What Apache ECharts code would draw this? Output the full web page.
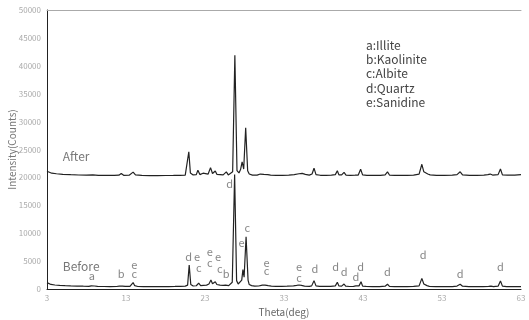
<!DOCTYPE html>
<html>
<head>
<meta charset="utf-8">
<script src="https://cdn.jsdelivr.net/npm/echarts@6/dist/echarts.min.js"></script>
<style>
  html, body { margin: 0; padding: 0; background: #fff; }
  #chart { width: 529px; height: 320px; }
</style>
</head>
<body>
<div id="chart"></div>
<script>
// X-ray diffraction patterns: [2θ (deg), intensity (counts)]
const beforePattern = [
  [3.0,1150],[3.2,950],[3.5,820],[4.0,720],[4.6,650],[5.3,600],[6.0,560],[6.8,530],[7.6,500],
  [8.3,480],[8.6,560],[8.8,640],[9.0,540],[9.4,470],[10.2,450],[11.0,440],[11.8,450],
  [12.15,520],[12.35,800],[12.55,520],[12.9,460],[13.5,470],[13.75,620],[13.9,1150],[14.1,600],
  [14.5,450],[15.2,430],[16.0,420],[16.8,420],[17.6,430],[18.4,440],[19.2,460],[19.9,480],
  [20.5,520],[20.8,700],[21.0,4300],[21.2,800],[21.5,540],[21.9,580],[22.2,1050],[22.45,600],
  [22.8,650],[23.2,700],[23.5,900],[23.75,1600],[23.95,950],[24.1,900],[24.3,1300],[24.5,800],
  [24.9,680],[25.3,650],[25.6,700],[25.8,720],[26.0,600],[26.2,650],[26.45,1200],[26.75,20500],
  [27.0,1500],[27.2,900],[27.45,1100],[27.65,1600],[27.8,3500],[27.95,2100],[28.2,9350],
  [28.45,1600],[28.6,800],[28.9,600],[29.3,500],[29.8,540],[30.05,650],[30.25,700],[30.45,640],
  [30.6,700],[30.8,1000],[31.0,600],[31.4,520],[32.0,480],[32.7,470],[33.4,500],[34.2,560],
  [34.6,640],[34.9,720],[35.2,640],[35.6,520],[36.2,480],[36.5,560],[36.8,1500],[37.05,560],
  [37.5,470],[38.2,460],[38.9,480],[39.5,560],[39.75,1200],[39.95,540],[40.3,520],[40.6,900],
  [40.8,500],[41.3,450],[41.8,480],[42.1,560],[42.3,480],[42.5,560],[42.75,1300],[42.95,520],
  [43.4,460],[44.2,430],[45.1,440],[45.8,500],[46.1,850],[46.35,480],[47.0,430],[47.8,420],
  [48.6,430],[49.4,460],[50.1,560],[50.45,1900],[50.7,900],[50.9,800],[51.1,600],[51.4,480],
  [52.2,420],[53.2,410],[54.3,430],[54.9,520],[55.3,850],[55.6,500],[56.4,430],[57.3,420],
  [58.2,430],[58.9,460],[59.2,500],[59.5,440],[60.1,500],[60.4,1450],[60.65,520],[61.2,440],
  [62.0,420],[63.0,410]
];

const afterPattern = [
  [3.0,21100],[3.2,20900],[3.6,20750],[4.2,20650],[5.0,20550],[6.0,20480],[7.0,20430],[8.0,20400],
  [8.8,20450],[9.5,20380],[10.5,20350],[11.5,20350],[12.1,20400],[12.4,20700],[12.7,20380],
  [13.4,20400],[13.6,20500],[13.9,20950],[14.2,20450],[15.0,20350],[16.0,20330],[17.0,20330],
  [18.0,20340],[19.0,20360],[19.8,20380],[20.5,20420],[20.75,20700],[20.95,24600],[21.15,20800],
  [21.5,20450],[21.9,20500],[22.1,21300],[22.35,20500],[22.75,20750],[23.0,20500],[23.4,20600],
  [23.7,21750],[23.95,20700],[24.1,20600],[24.3,21150],[24.5,20550],[24.9,20500],[25.3,20450],
  [25.7,21000],[25.95,20450],[26.2,20500],[26.5,21000],[26.78,41900],[27.05,21200],[27.3,20800],
  [27.5,21400],[27.7,22800],[27.9,21500],[28.15,28900],[28.4,21200],[28.6,20600],[29.0,20400],
  [29.6,20400],[30.0,20600],[30.25,20850],[30.45,20550],[30.7,20850],[30.95,20500],[31.3,20400],
  [32.0,20350],[32.8,20350],[33.6,20400],[34.3,20500],[34.9,20650],[35.3,20730],[35.7,20550],
  [36.2,20400],[36.55,20600],[36.8,21650],[37.05,20500],[37.6,20380],[38.3,20380],[39.0,20400],
  [39.5,20500],[39.75,21200],[39.95,20450],[40.3,20450],[40.6,20900],[40.85,20420],[41.4,20380],
  [42.0,20400],[42.2,20550],[42.4,20420],[42.7,21450],[42.95,20450],[43.5,20380],[44.3,20350],
  [45.2,20380],[45.8,20450],[46.1,21000],[46.35,20420],[47.0,20370],[47.8,20360],[48.6,20380],
  [49.4,20420],[50.1,20600],[50.45,22350],[50.7,21000],[50.9,20900],[51.2,20600],[51.5,20450],
  [52.3,20380],[53.3,20370],[54.3,20400],[54.9,20500],[55.3,21000],[55.6,20450],[56.5,20380],
  [57.4,20370],[58.3,20400],[58.8,20500],[59.1,20600],[59.4,20420],[60.1,20500],[60.4,21500],
  [60.65,20450],[61.3,20400],[62.2,20420],[63.0,20500]
];

// Phase letters marking peaks of the "Before" pattern: [2θ, counts, phase]
const phaseMarks = [
  [8.67,2330,'a'],[12.39,2810,'b'],[14.04,4300,'e'],[14.04,2810,'c'],
  [20.93,5680,'d'],[22.0,5680,'e'],[22.2,3710,'c'],[23.6,6580,'e'],[23.6,4710,'c'],
  [24.66,5790,'e'],[24.87,3580,'c'],[25.68,2810,'b'],[26.13,18800,'d'],
  [27.62,8300,'e'],[28.34,10880,'c'],[30.79,4710,'e'],[30.79,3280,'c'],
  [34.9,3890,'e'],[34.9,1920,'c'],[36.9,3580,'d'],[39.55,3890,'d'],[40.6,3100,'d'],
  [42.09,2100,'d'],[42.7,3890,'d'],[46.1,3100,'d'],[50.6,6090,'d'],[55.3,2690,'d'],[60.4,3890,'d']
];

// Pattern captions: [2θ, counts, text]
const patternNames = [[5.0,23700,'After'],[5.0,4000,'Before']];

const phaseKey = ['a:Illite','b:Kaolinite','c:Albite','d:Quartz','e:Sanidine'];

const xTicks = [3,13,23,33,43,53,63];

const FONT = '"Noto Sans CJK SC", "Noto Sans", sans-serif';

const chart = echarts.init(document.getElementById('chart'), null, { renderer: 'canvas' });

chart.setOption({
  animation: false,
  backgroundColor: '#fff',
  grid: { left: 47, right: 8, top: 10, bottom: 31, containLabel: false, outerBoundsMode: 'none' },
  xAxis: [{
    type: 'value', min: 3, max: 63,
    name: 'Theta(deg)', nameLocation: 'middle', nameGap: 18, nameMoveOverlap: false,
    nameTextStyle: { color: '#666', fontSize: 10, fontFamily: FONT },
    axisLine: { show: true, lineStyle: { color: '#222', width: 1 } },
    axisTick: { show: false },
    splitLine: { show: false },
    axisLabel: { customValues: xTicks, color: '#aaa', fontSize: 8, margin: 5, fontFamily: FONT }
  }, {
    type: 'value', min: 3, max: 63, position: 'top',
    axisLine: { show: true, lineStyle: { color: '#aaa', width: 1 } },
    axisTick: { show: false }, axisLabel: { show: false }, splitLine: { show: false }
  }],
  yAxis: {
    type: 'value', min: 0, max: 50000, interval: 5000,
    name: 'Intensity(Counts)', nameLocation: 'middle', nameGap: 30, nameRotate: 90,
    nameMoveOverlap: false,
    nameTextStyle: { color: '#777', fontSize: 10, fontFamily: FONT },
    axisLine: { show: true, lineStyle: { color: '#222', width: 1 } },
    axisTick: { show: false },
    splitLine: { show: false },
    axisLabel: { color: '#aaa', fontSize: 8, margin: 6, fontFamily: FONT, formatter: v => String(v) }
  },
  graphic: [{
    type: 'text', left: 366, top: 38,
    style: { text: phaseKey.join('\n'), fill: '#444', font: '12px ' + FONT, lineHeight: 14.3 }
  }],
  series: [
    {
      name: 'After', type: 'line', data: afterPattern, showSymbol: false, symbol: 'none',
      lineStyle: { color: '#222', width: 1.2 }, z: 3
    },
    {
      name: 'Before', type: 'line', data: beforePattern, showSymbol: false, symbol: 'none',
      lineStyle: { color: '#222', width: 1.2 }, z: 3
    },
    {
      name: 'Phases', type: 'scatter', data: phaseMarks, symbolSize: 0, silent: true,
      label: {
        show: true, position: 'inside', formatter: p => p.value[2],
        color: '#666', fontSize: 11, fontFamily: FONT
      }, z: 4
    },
    {
      name: 'Captions', type: 'scatter', data: patternNames, symbolSize: 0, silent: true,
      label: {
        show: true, position: 'right', distance: 0, formatter: p => p.value[2],
        color: '#555', fontSize: 12, fontFamily: FONT
      }, z: 4
    }
  ]
});
</script>
</body>
</html>
